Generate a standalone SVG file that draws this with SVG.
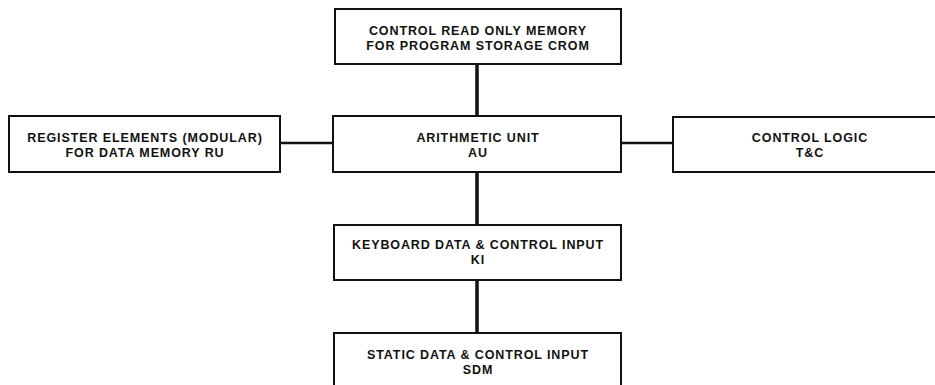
<svg xmlns="http://www.w3.org/2000/svg" width="935" height="385" viewBox="0 0 935 385">
<style>
.box{fill:#fff;stroke:#111;stroke-width:2}
.t{font-family:"Liberation Sans",Arial,sans-serif;font-weight:bold;font-size:12.5px;letter-spacing:0.9px;fill:#111;text-anchor:middle}
.v{stroke:#111;stroke-width:3.5;fill:none}
.h{stroke:#111;stroke-width:2.5;fill:none}
</style>
<rect width="935" height="385" fill="#fff"/>
<g id="connectors">
<line class="v" x1="477" y1="64" x2="477" y2="116"/>
<line class="v" x1="477" y1="172" x2="477" y2="225"/>
<line class="v" x1="477" y1="280" x2="477" y2="333"/>
<line class="h" x1="280" y1="143" x2="333" y2="143"/>
<line class="h" x1="621" y1="143" x2="673" y2="143"/>
</g>
<g id="crom">
<rect class="box" x="335" y="9" width="286" height="55"/>
<text class="t" x="478" y="35">CONTROL READ ONLY MEMORY</text>
<text class="t" x="478" y="50">FOR PROGRAM STORAGE CROM</text>
</g>
<g id="ru">
<rect class="box" x="9" y="116" width="271" height="56"/>
<text class="t" x="145" y="142">REGISTER ELEMENTS (MODULAR)</text>
<text class="t" x="145" y="157">FOR DATA MEMORY RU</text>
</g>
<g id="au">
<rect class="box" x="333" y="116" width="288" height="56"/>
<text class="t" x="478" y="142">ARITHMETIC UNIT</text>
<text class="t" x="478" y="157">AU</text>
</g>
<g id="tc">
<rect class="box" x="673" y="117" width="274" height="55"/>
<text class="t" x="810" y="142">CONTROL LOGIC</text>
<text class="t" x="810" y="157">T&amp;C</text>
</g>
<g id="ki">
<rect class="box" x="334" y="225" width="287" height="55"/>
<text class="t" x="478" y="249">KEYBOARD DATA &amp; CONTROL INPUT</text>
<text class="t" x="478" y="264">KI</text>
</g>
<g id="sdm">
<rect class="box" x="334" y="333" width="287" height="60"/>
<text class="t" x="478" y="359">STATIC DATA &amp; CONTROL INPUT</text>
<text class="t" x="478" y="374">SDM</text>
</g>
</svg>
